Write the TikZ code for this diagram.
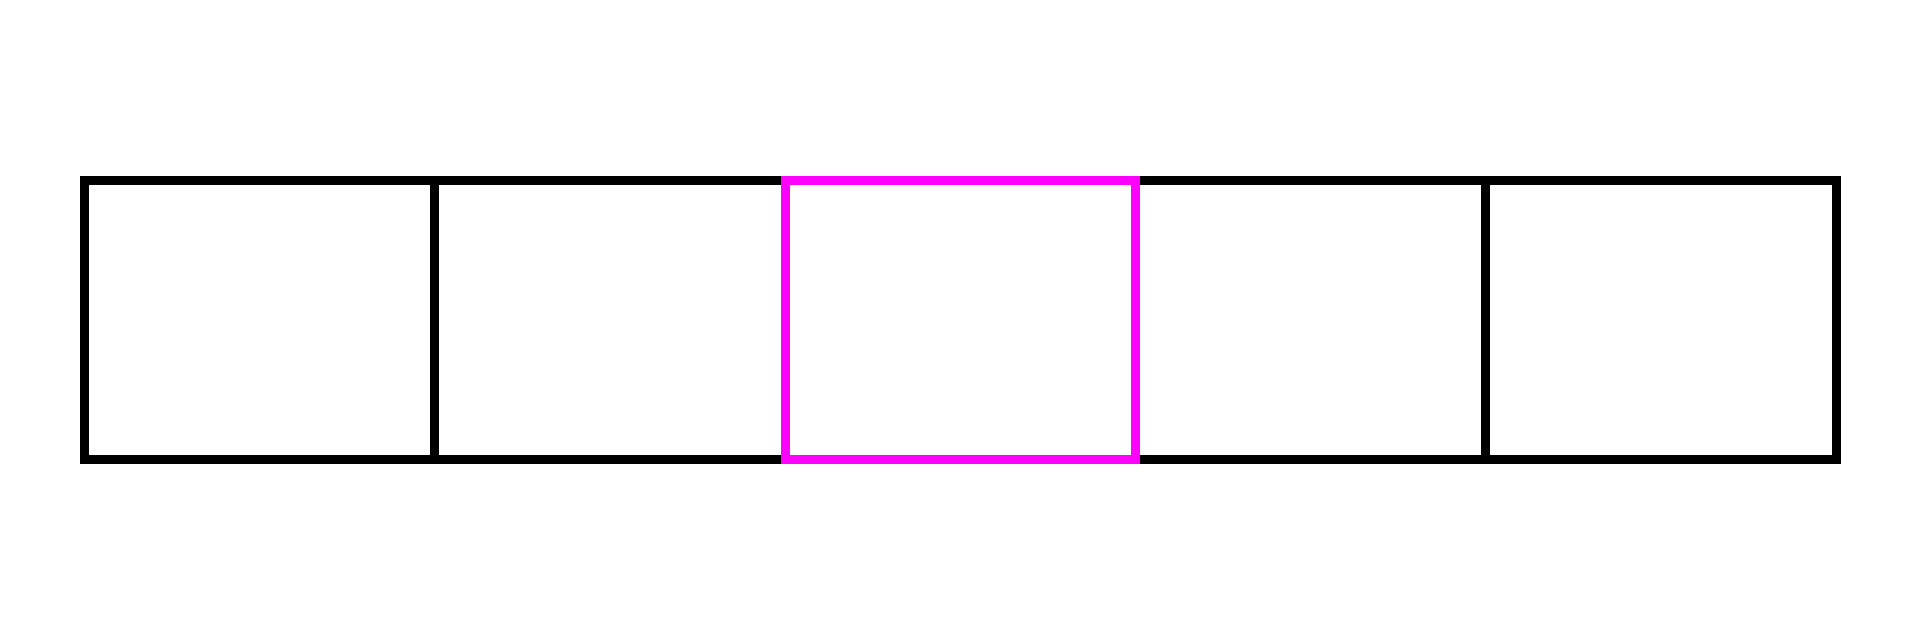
\documentclass[tikz,border=0pt]{standalone}
\usepackage[table]{xcolor}
\usepackage{tikz}
\definecolor{hlmagenta}{RGB}{255,0,255}

\begin{document}
\begin{tikzpicture}
[
cell/.style={rectangle, draw=black, line width=0.09cm, inner sep=0pt, minimum width=3.503cm, minimum height=2.785cm, node distance=3.503cm},
cell_hl/.style={cell, draw=hlmagenta}
]
\useasboundingbox (0,0) rectangle (19.2,6.4);
%Nodes
\node[cell]     (c1)    at (2.597,3.2)  {};
\node[cell]     (c2)    [right of=c1]   {};
\node[cell]     (c4)    [right of=c2, xshift=3.503cm] {};
\node[cell]     (c5)    [right of=c4]   {};
%highlighted cell last, on top
\node[cell_hl]  (c3)    [right of=c2]   {};
\end{tikzpicture}
\end{document}
